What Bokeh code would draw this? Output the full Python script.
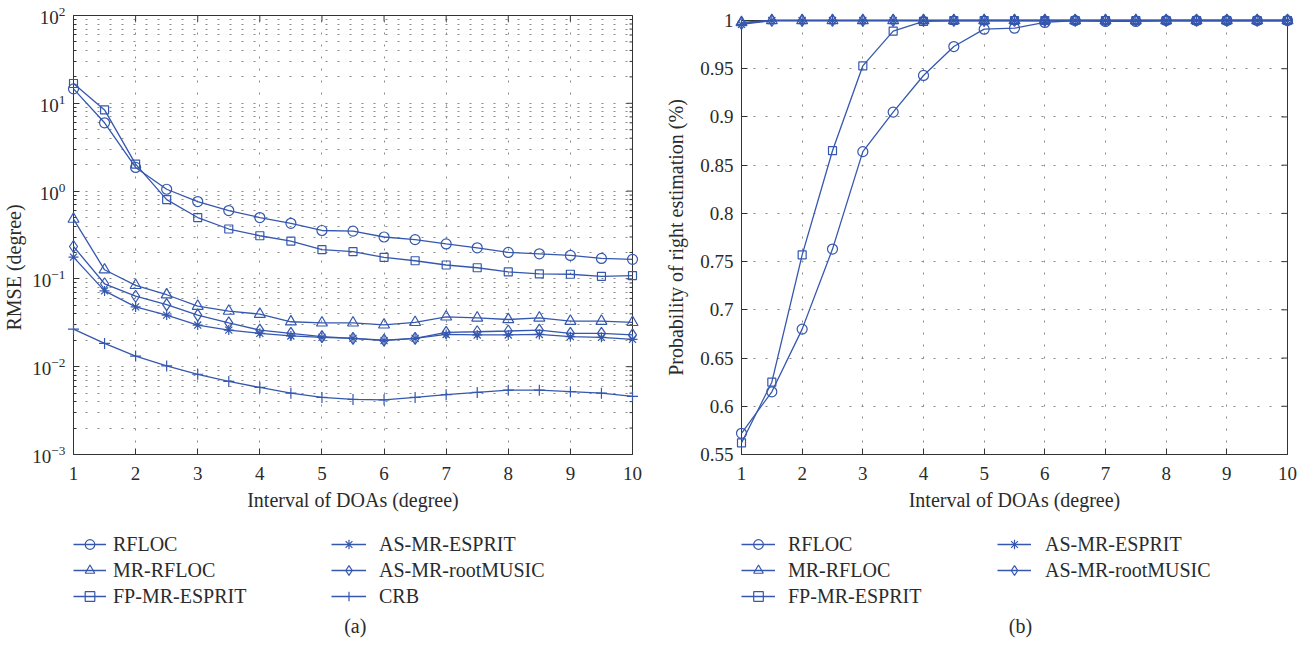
import math
from bokeh.plotting import figure
from bokeh.layouts import row, column
from bokeh.models import FixedTicker, Legend, LegendItem, Label, CustomJSTickFormatter
from bokeh.embed import file_html
from bokeh.resources import INLINE

# ---------------- data ----------------
interval = [1, 1.5, 2, 2.5, 3, 3.5, 4, 4.5, 5, 5.5, 6, 6.5, 7, 7.5, 8, 8.5, 9, 9.5, 10]

rmse_rfloc = [14.6, 6.0, 1.86, 1.05, 0.76, 0.60, 0.50, 0.43, 0.356, 0.35, 0.30, 0.28, 0.25, 0.226, 0.20, 0.193, 0.185, 0.171, 0.167]
rmse_mr_rfloc = [0.48, 0.127, 0.0845, 0.066, 0.049, 0.043, 0.0397, 0.0325, 0.0316, 0.0316, 0.030, 0.032, 0.037, 0.036, 0.0345, 0.036, 0.033, 0.033, 0.032]
rmse_fp_mr_esprit = [16.8, 8.4, 2.03, 0.80, 0.50, 0.37, 0.31, 0.27, 0.215, 0.204, 0.176, 0.161, 0.144, 0.134, 0.12, 0.114, 0.113, 0.107, 0.109]
rmse_as_mr_esprit = [0.177, 0.073, 0.048, 0.0387, 0.0298, 0.0261, 0.024, 0.0224, 0.0216, 0.021, 0.0198, 0.021, 0.0233, 0.023, 0.023, 0.0233, 0.022, 0.0216, 0.0205]
rmse_as_mr_rootmusic = [0.234, 0.088, 0.0635, 0.051, 0.0387, 0.0316, 0.0261, 0.024, 0.022, 0.021, 0.0201, 0.021, 0.0246, 0.025, 0.0255, 0.0261, 0.024, 0.024, 0.023]
rmse_crb = [0.0268, 0.0184, 0.0132, 0.0102, 0.0082, 0.0068, 0.0058, 0.0050, 0.00447, 0.00424, 0.0042, 0.00447, 0.0048, 0.0051, 0.0054, 0.0054, 0.0052, 0.0050, 0.0046]

prob_rfloc = [0.572, 0.615, 0.680, 0.763, 0.864, 0.905, 0.943, 0.973, 0.991, 0.992, 0.998, 1.0, 0.999, 0.999, 1.0, 1.0, 1.0, 1.0, 1.0]
prob_mr_rfloc = [0.998, 1.0, 1.0, 1.0, 1.0, 1.0, 1.0, 1.0, 1.0, 1.0, 1.0, 1.0, 1.0, 1.0, 1.0, 1.0, 1.0, 1.0, 1.0]
prob_fp_mr_esprit = [0.562, 0.625, 0.757, 0.865, 0.953, 0.989, 0.999, 1.0, 1.0, 1.0, 1.0, 1.0, 1.0, 1.0, 1.0, 1.0, 1.0, 1.0, 1.0]
prob_as_mr_esprit = [0.996, 1.0, 1.0, 1.0, 1.0, 1.0, 1.0, 1.0, 1.0, 1.0, 1.0, 1.0, 1.0, 1.0, 1.0, 1.0, 1.0, 1.0, 1.0]
prob_as_mr_rootmusic = [0.997, 1.0, 1.0, 1.0, 1.0, 1.0, 1.0, 1.0, 1.0, 1.0, 1.0, 1.0, 1.0, 1.0, 1.0, 1.0, 1.0, 1.0, 1.0]

names_a = ["RFLOC", "MR-RFLOC", "FP-MR-ESPRIT", "AS-MR-ESPRIT", "AS-MR-rootMUSIC", "CRB"]
names_b = ["RFLOC", "MR-RFLOC", "FP-MR-ESPRIT", "AS-MR-ESPRIT", "AS-MR-rootMUSIC"]
x_ticks = [1, 2, 3, 4, 5, 6, 7, 8, 9, 10]
rmse_ticks = [1e-3, 1e-2, 1e-1, 1e0, 1e1, 1e2]
prob_ticks = [0.55, 0.6, 0.65, 0.7, 0.75, 0.8, 0.85, 0.9, 0.95, 1.0]

# ---------------- style ----------------
BLUE = "#3557ae"
AXC = "#333333"
TXT = "#2b2b2b"
GRIDC = "#8a8a8a"
FONT = "Liberation Serif"
MARKERS = {"RFLOC": ("circle", 10), "MR-RFLOC": ("triangle", 11), "FP-MR-ESPRIT": ("square", 8),
           "AS-MR-ESPRIT": ("asterisk", 10), "AS-MR-rootMUSIC": ("diamond", 12), "CRB": ("cross", 11)}

minor_log = [m * 10.0 ** e for e in range(-3, 2) for m in range(2, 10)]

MAIN_H = 515
LEG_H = 123


def style_axis(ax):
    ax.axis_line_color = AXC
    ax.major_tick_line_color = AXC
    ax.minor_tick_line_color = AXC
    ax.major_tick_in = 6
    ax.major_tick_out = 0
    ax.minor_tick_in = 3
    ax.minor_tick_out = 0
    ax.major_label_text_font = FONT
    ax.major_label_text_color = TXT
    ax.major_label_text_font_size = "19px"
    ax.major_label_standoff = 8
    ax.axis_label_text_font = FONT
    ax.axis_label_text_font_style = "normal"
    ax.axis_label_text_color = TXT
    ax.axis_label_text_font_size = "20px"


def style_grid(p):
    for g in p.grid:
        g.grid_line_color = GRIDC
        g.grid_line_dash = "2 10"
        g.grid_line_width = 1


def mirror_ticks(p, xs_top, y_top, x_right, ys_right, ys_minor=None):
    # inward ticks on the top and right frame edges (half of each dash is clipped by the frame)
    p.scatter(xs_top, [y_top] * len(xs_top), marker="dash", angle=math.pi / 2, size=12,
              line_color=AXC, line_width=1)
    p.scatter([x_right] * len(ys_right), ys_right, marker="dash", size=12,
              line_color=AXC, line_width=1)
    if ys_minor:
        p.scatter([x_right] * len(ys_minor), ys_minor, marker="dash", size=6,
                  line_color=AXC, line_width=1)


def draw_series(p, xs, ys, name):
    marker, size = MARKERS[name]
    p.line(xs, ys, line_color=BLUE, line_width=1.3, level="overlay")
    p.scatter(xs, ys, marker=marker, size=size, line_color=BLUE, fill_color=None,
              line_width=1.2, level="overlay")


def legend_fig(width, names, cols, caption, cap_x):
    # note: this figure's frame is aligned by the column layout with the plot frame above it
    f = figure(width=width, height=LEG_H, x_range=(0, 1), y_range=(0, 1),
               x_axis_location=None, y_axis_location=None,
               min_border=0, output_backend="svg", toolbar_location=None)
    f.outline_line_color = None
    f.grid.visible = False
    items = []
    for name in names:
        marker, size = MARKERS[name]
        r1 = f.line([0.5, 0.5], [-5, -5], line_color=BLUE, line_width=1.3)
        r2 = f.scatter([0.5], [-5], marker=marker, size=8, line_color=BLUE, fill_color=None, line_width=1.2)
        items.append(LegendItem(label=name, renderers=[r1, r2]))
    groups = [items[:3], items[3:]]
    for grp, (cx, gw, so) in zip(groups, cols):
        ly = 30 + 26 * (3 - len(grp))
        lg = Legend(items=grp, location=(cx, ly), orientation="vertical",
                    glyph_width=gw, glyph_height=24, label_height=20, spacing=2,
                    label_standoff=so, padding=0, margin=0,
                    border_line_alpha=0, background_fill_alpha=0,
                    label_text_font=FONT, label_text_font_size="20px",
                    label_text_font_style="normal", label_text_color=TXT)
        f.add_layout(lg, "center")
    f.add_layout(Label(x=cap_x, y=0.098, text=caption, text_align="center", text_baseline="middle",
                       text_font=FONT, text_font_size="20px", text_color=TXT))
    return f


# ---------------- panel (a) ----------------
# trailing no-break spaces shift the (off-centre) y title down, as in the reference
pa = figure(width=660, height=MAIN_H, y_axis_type="log",
            x_range=(1, 10), y_range=(1e-3, 1e2),
            min_border_left=72, min_border_right=28, min_border_top=15, min_border_bottom=61,
            output_backend="svg", toolbar_location=None,
            x_axis_label="Interval of DOAs (degree)",
            y_axis_label="RMSE (degree)" + "\u00a0" * 13)
pa.outline_line_color = AXC
pa.xaxis.ticker = FixedTicker(ticks=x_ticks, minor_ticks=[])
pa.yaxis.ticker = FixedTicker(ticks=rmse_ticks, minor_ticks=minor_log)
style_axis(pa.xaxis[0])
style_axis(pa.yaxis[0])
pa.xaxis[0].major_label_standoff = 12
pa.xaxis[0].axis_label_standoff = 6
pa.yaxis[0].axis_label_standoff = 4
style_grid(pa)
pa.ygrid.minor_grid_line_color = GRIDC
pa.ygrid.minor_grid_line_dash = "2 10"
mirror_ticks(pa, x_ticks, rmse_ticks[-1], x_ticks[-1], rmse_ticks, minor_log)

rmse_series = [rmse_rfloc, rmse_mr_rfloc, rmse_fp_mr_esprit, rmse_as_mr_esprit, rmse_as_mr_rootmusic, rmse_crb]
for name, ys in zip(names_a, rmse_series):
    draw_series(pa, interval, ys, name)

# ---------------- panel (b) ----------------
pb = figure(width=637, height=MAIN_H,
            x_range=(1, 10), y_range=(0.55, 1.0),
            min_border_left=81, min_border_right=10, min_border_top=20, min_border_bottom=61,
            output_backend="svg", toolbar_location=None,
            x_axis_label="Interval of DOAs (degree)", y_axis_label="Probability of right estimation (%)")
pb.outline_line_color = AXC
pb.xaxis.ticker = FixedTicker(ticks=x_ticks, minor_ticks=[])
pb.yaxis.ticker = FixedTicker(ticks=prob_ticks, minor_ticks=[])
pb.yaxis.formatter = CustomJSTickFormatter(code="return Number(tick.toFixed(2)).toString();")
style_axis(pb.xaxis[0])
style_axis(pb.yaxis[0])
pb.xaxis[0].major_label_standoff = 12
pb.xaxis[0].axis_label_standoff = 6
pb.yaxis[0].axis_label_standoff = 10
style_grid(pb)
mirror_ticks(pb, x_ticks, prob_ticks[-1], x_ticks[-1], prob_ticks)

prob_series = [prob_rfloc, prob_mr_rfloc, prob_fp_mr_esprit, prob_as_mr_esprit, prob_as_mr_rootmusic]
for name, ys in zip(names_b, prob_series):
    draw_series(pb, interval, ys, name)

# ---------------- legends + captions ----------------
la = legend_fig(660, names_a, [(0, 33, 7), (258, 35, 13)], "(a)", 0.504)
lb = legend_fig(637, names_b, [(0, 34, 13), (256, 34, 14)], "(b)", 0.511)

layout = row(column(pa, la), column(pb, lb))
open("out.html", "w", encoding="utf-8").write(file_html(layout, INLINE))
